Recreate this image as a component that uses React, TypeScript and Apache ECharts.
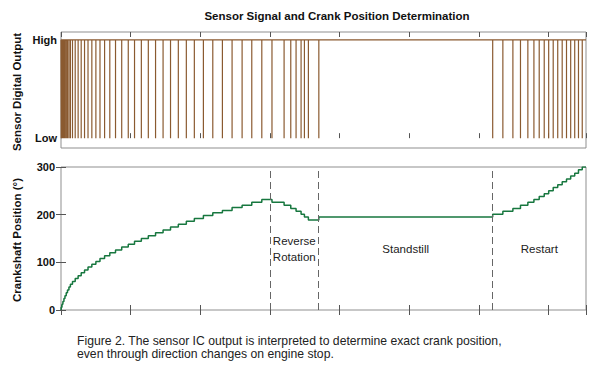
import React, { useEffect, useRef } from "react";
import * as echarts from "echarts";

// Pulse times (x axis units) and crank angle after each pulse (degrees)
const forwardPulses = [
  0.003, 0.014, 0.027, 0.042, 0.057, 0.075, 0.093, 0.114, 0.135,
  0.165, 0.204, 0.246, 0.29, 0.338, 0.388, 0.443, 0.501,
  0.56, 0.626, 0.701, 0.783, 0.872, 0.966,
  1.056, 1.154, 1.254, 1.358, 1.466, 1.573, 1.685, 1.8,
  1.915, 2.045, 2.18, 2.318, 2.457, 2.601, 2.74, 2.884,
];
const forwardAngles = [
  6, 12, 18, 24, 30, 36, 42, 48, 54,
  60, 66, 72, 78, 84, 90, 96, 102,
  108, 114, 120, 126, 132, 138,
  144, 150, 156, 162, 168, 174, 180, 186,
  192, 198, 204, 209, 215, 220, 226, 232,
];
const reversePulses = [3.03, 3.204, 3.3, 3.376, 3.448, 3.496, 3.553];
const reverseAngles = [226, 220, 213, 207, 201, 195, 189];
const settlePulses = [3.703];
const settleAngles = [195];
const restartPulses = [
  6.2, 6.346, 6.49, 6.599, 6.705, 6.792, 6.868, 6.94, 7.004,
  7.069, 7.134, 7.198, 7.26, 7.32, 7.378, 7.432, 7.486,
];
const restartAngles = [
  201, 207, 213, 220, 226, 232, 238, 244, 250,
  257, 263, 269, 275, 281, 287, 294, 300,
];
const xMax = 7.54;
const phaseBoundaries = [3, 3.703, 6.2];
const phaseLabels = ["Reverse\nRotation", "Standstill", "Restart"];
const phaseLabelX = [3.35, 4.95, 6.87];
const levelLabels = ["Low", "High"];
const angleTicks = [0, 100, 200, 300];
const title = "Sensor Signal and Crank Position Determination";
const topAxisName = "Sensor Digital Output";
const bottomAxisName = "Crankshaft Position (°)";
const caption = [
  "Figure 2. The sensor IC output is interpreted to determine exact crank position,",
  "even through direction changes on engine stop.",
];

const FONT = "'Liberation Sans', Arial, sans-serif";
const BROWN = "#8a5a30";
const GREEN = "#17773f";

export default function App() {
  const ref = useRef<HTMLDivElement>(null);
  useEffect(() => {
    if (!ref.current) return;
    const chart = echarts.init(ref.current, null, { renderer: "svg" });

    const allPulses = [...forwardPulses, ...reversePulses, ...settlePulses, ...restartPulses];
    const allAngles = [...forwardAngles, ...reverseAngles, ...settleAngles, ...restartAngles];

    const signal: number[][] = [[0, 1]];
    allPulses.forEach((t) => {
      signal.push([t, 1], [t, 0], [t, 1]);
    });
    signal.push([xMax, 1]);

    const steps: number[][] = [[0, 0]];
    allPulses.forEach((t, i) => steps.push([t, allAngles[i]]));
    steps.push([xMax, allAngles[allAngles.length - 1]]);

    const tickStyle = { show: true, inside: true, length: 5, lineStyle: { color: "#555" } };
    const xBase = {
      type: "value" as const,
      min: 0,
      max: xMax,
      interval: 1,
      axisLine: { show: false },
      axisLabel: { show: false },
      splitLine: { show: false },
      axisTick: tickStyle,
    };

    chart.setOption({
      animation: false,
      backgroundColor: "#ffffff",
      grid: [
        { left: 61, top: 32, width: 525, height: 116, show: true, borderColor: "#8f8f8f", borderWidth: 1 },
        { left: 61, top: 167, width: 525, height: 143, show: true, borderColor: "#8f8f8f", borderWidth: 1 },
      ],
      xAxis: [
        { ...xBase, gridIndex: 0, position: "bottom" },
        { ...xBase, gridIndex: 0, position: "top" },
        { ...xBase, gridIndex: 1, position: "bottom" },
        { ...xBase, gridIndex: 1, position: "top" },
      ],
      yAxis: [
        {
          type: "value",
          gridIndex: 0,
          min: -0.1,
          max: 1.08,
          axisLine: { show: false },
          axisTick: { show: false },
          splitLine: { show: false },
          axisLabel: {
            customValues: [0, 1],
            formatter: (v: number) => levelLabels[Math.round(v)],
            fontFamily: FONT,
            fontWeight: "bold",
            fontSize: 11,
            color: "#111",
            margin: 4,
          },
        },
        {
          type: "value",
          gridIndex: 1,
          min: 0,
          max: 300,
          interval: 100,
          axisLine: { show: false },
          splitLine: { show: false },
          axisTick: tickStyle,
          axisLabel: {
            customValues: angleTicks,
            fontFamily: FONT,
            fontWeight: "bold",
            fontSize: 11,
            color: "#111",
            margin: 6,
          },
        },
        {
          type: "value",
          gridIndex: 1,
          position: "right",
          min: 0,
          max: 300,
          interval: 100,
          axisLine: { show: false },
          splitLine: { show: false },
          axisTick: tickStyle,
          axisLabel: { show: false },
        },
      ],
      series: [
        {
          type: "line",
          xAxisIndex: 0,
          yAxisIndex: 0,
          data: signal,
          symbol: "none",
          lineStyle: { color: BROWN, width: 1.2 },
        },
        {
          type: "line",
          xAxisIndex: 2,
          yAxisIndex: 1,
          data: steps,
          step: "end",
          symbol: "none",
          lineStyle: { color: GREEN, width: 1.5 },
          markLine: {
            silent: true,
            symbol: "none",
            label: { show: false },
            lineStyle: { color: "#666", type: [7, 4], width: 1 },
            data: phaseBoundaries.map((x) => ({ xAxis: x })),
          },
          markPoint: {
            symbol: "circle",
            symbolSize: 0,
            label: {
              show: true,
              position: "inside",
              fontFamily: FONT,
              fontSize: 11.5,
              color: "#222",
              lineHeight: 16,
              align: "center",
              verticalAlign: "middle",
            },
            data: phaseLabels.map((txt, i) => ({
              coord: [phaseLabelX[i], 127],
              value: txt,
              label: { formatter: txt },
            })),
          },
        },
      ],
      graphic: [
        {
          type: "text",
          x: 337,
          y: 16,
          style: { text: title, font: `bold 11.5px ${FONT}`, fill: "#111", align: "center", verticalAlign: "middle" },
        },
        {
          type: "text",
          x: 17,
          y: 92,
          rotation: Math.PI / 2,
          style: { text: topAxisName, font: `bold 11.5px ${FONT}`, fill: "#111", align: "center", verticalAlign: "middle" },
        },
        {
          type: "text",
          x: 17,
          y: 240,
          rotation: Math.PI / 2,
          style: { text: bottomAxisName, font: `bold 11.5px ${FONT}`, fill: "#111", align: "center", verticalAlign: "middle" },
        },
        {
          type: "text",
          x: 77,
          y: 341,
          style: { text: caption[0], font: `12.2px ${FONT}`, fill: "#222", align: "left", verticalAlign: "middle" },
        },
        {
          type: "text",
          x: 77,
          y: 354,
          style: { text: caption[1], font: `12.2px ${FONT}`, fill: "#222", align: "left", verticalAlign: "middle" },
        },
      ],
    });
    return () => chart.dispose();
  }, []);
  return (
    <div
      ref={ref}
      style={{ position: "fixed", left: 0, top: 0, width: 601, height: 365, background: "#fff" }}
    />
  );
}
